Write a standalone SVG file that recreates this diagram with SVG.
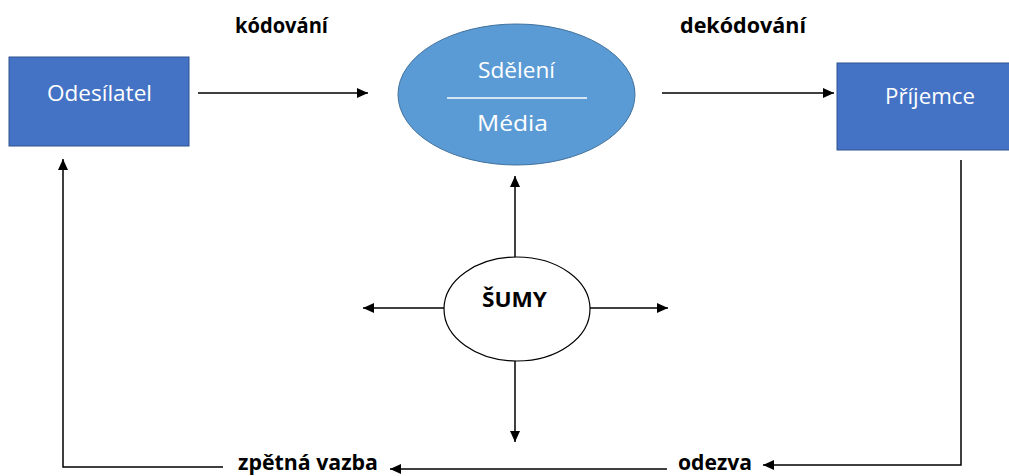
<svg xmlns="http://www.w3.org/2000/svg" width="1009" height="476" viewBox="0 0 1009 476">
<style>
.lbl{font-family:"Open Sans","Liberation Sans",sans-serif;font-size:21px;fill:#000;font-weight:bold;text-anchor:middle}
.wt{font-family:"Open Sans","Liberation Sans",sans-serif;font-size:22px;fill:#fff;text-anchor:middle}
.box{fill:#4472C4;stroke:#2F528F;stroke-width:1}
.ln{stroke:#000;stroke-width:1.5;fill:none}
</style>
<defs>
<marker id="ah" markerWidth="11" markerHeight="10" refX="11" refY="5" orient="auto" markerUnits="userSpaceOnUse">
<path d="M0,0 L11,5 L0,10 Z" fill="#000"/>
</marker>
</defs>
<g id="odesilatel">
<rect class="box" x="9" y="57" width="180" height="89"/>
<text class="wt" x="99.5" y="101" textLength="105" lengthAdjust="spacingAndGlyphs">Odesílatel</text>
</g>
<g id="sdeleni">
<ellipse cx="516.5" cy="94.5" rx="118.5" ry="70.5" fill="#5B9BD5" stroke="#41719C" stroke-width="1"/>
<text class="wt" x="516.5" y="78" textLength="77" lengthAdjust="spacingAndGlyphs">Sdělení</text>
<line x1="447" y1="98" x2="587" y2="98" stroke="#fff" stroke-width="1.5"/>
<text class="wt" x="512.5" y="131" textLength="71" lengthAdjust="spacingAndGlyphs">Média</text>
</g>
<g id="prijemce">
<rect class="box" x="837" y="63" width="175" height="87"/>
<text class="wt" x="930" y="104" textLength="90" lengthAdjust="spacingAndGlyphs">Příjemce</text>
</g>
<g id="sumy">
<ellipse cx="517" cy="309" rx="73" ry="52" fill="#fff" stroke="#000" stroke-width="1.2"/>
<text class="lbl" x="514.5" y="307" textLength="65" lengthAdjust="spacingAndGlyphs">ŠUMY</text>
</g>
<g id="labels">
<text class="lbl" x="281.5" y="33" textLength="93" lengthAdjust="spacingAndGlyphs">kódování</text>
<text class="lbl" x="743" y="33" textLength="126" lengthAdjust="spacingAndGlyphs">dekódování</text>
<text class="lbl" x="308" y="470" textLength="140" lengthAdjust="spacingAndGlyphs">zpětná vazba</text>
<text class="lbl" x="715" y="470" textLength="74" lengthAdjust="spacingAndGlyphs">odezva</text>
</g>
<g id="connectors">
<line class="ln" x1="198" y1="93" x2="368" y2="93" marker-end="url(#ah)"/>
<line class="ln" x1="662" y1="93" x2="834" y2="93" marker-end="url(#ah)"/>
<line class="ln" x1="515" y1="257" x2="515" y2="176" marker-end="url(#ah)"/>
<line class="ln" x1="444" y1="308" x2="363" y2="308" marker-end="url(#ah)"/>
<line class="ln" x1="590" y1="308" x2="668" y2="308" marker-end="url(#ah)"/>
<line class="ln" x1="515" y1="361" x2="515" y2="442" marker-end="url(#ah)"/>
<polyline class="ln" points="961,160 961,465 763,465" marker-end="url(#ah)"/>
<line class="ln" x1="667" y1="469" x2="390" y2="469" marker-end="url(#ah)"/>
<polyline class="ln" points="223,467 63,467 63,159" marker-end="url(#ah)"/>
</g>
</svg>
